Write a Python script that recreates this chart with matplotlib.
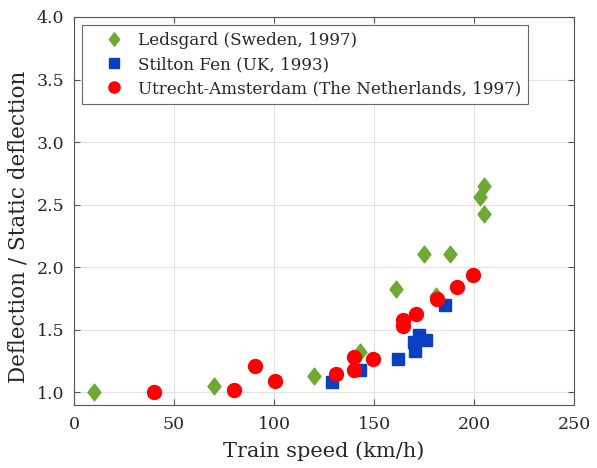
import numpy as np
import matplotlib.pyplot as plt
from matplotlib.path import Path

# Ledsgard (Sweden, 1997)
ledsgard_speed = [10, 70, 120, 143, 161, 175, 181, 188, 203, 205, 205]
ledsgard_ratio = [1.00, 1.05, 1.13, 1.32, 1.83, 2.11, 1.77, 2.11, 2.56, 2.65, 2.43]

# Stilton Fen (UK, 1993)
stilton_speed = [129, 143, 162, 170.5, 170.2, 172.7, 176, 185.5]
stilton_ratio = [1.08, 1.18, 1.27, 1.33, 1.40, 1.46, 1.42, 1.70]

# Utrecht-Amsterdam (The Netherlands, 1997)
utrecht_speed = [40, 80, 90.5, 100.5, 131, 140, 140, 149.5, 164.3, 164.3, 171, 181.7, 191.7, 199.5]
utrecht_ratio = [1.00, 1.02, 1.21, 1.09, 1.15, 1.28, 1.18, 1.27, 1.58, 1.53, 1.63, 1.75, 1.84, 1.94]

plt.rcParams['font.family'] = 'DejaVu Serif'
plt.rcParams['xtick.labelsize'] = 12.5
plt.rcParams['ytick.labelsize'] = 12.5

diamond = Path([(0, 1), (0.78, 0), (0, -1), (-0.78, 0), (0, 1)],
               [Path.MOVETO, Path.LINETO, Path.LINETO, Path.LINETO, Path.CLOSEPOLY])

fig = plt.figure(figsize=(5.97, 4.68), dpi=100)
ax = fig.add_axes([0.124, 0.1346, 0.8375, 0.8291])

ax.plot(ledsgard_speed, ledsgard_ratio, linestyle='none', marker=diamond,
        markersize=12, color='#6fa832', label='Ledsgard (Sweden, 1997)')
ax.plot(stilton_speed, stilton_ratio, linestyle='none', marker='s',
        markersize=8.5, color='#0a3ec4', label='Stilton Fen (UK, 1993)')
ax.plot(utrecht_speed, utrecht_ratio, linestyle='none', marker='o',
        markersize=10, color='#ff0000', label='Utrecht-Amsterdam (The Netherlands, 1997)')

ax.set_xlim(0, 250)
ax.set_ylim(0.9, 4.0)
ax.set_xticks(np.arange(0, 251, 50))
ax.set_yticks(np.arange(1.0, 4.01, 0.5))
ax.set_yticklabels([f'{v:.1f}' for v in np.arange(1.0, 4.01, 0.5)])
ax.grid(True, color='#e3e3e3', linewidth=0.8)
ax.set_axisbelow(True)
ax.tick_params(direction='in', top=True, right=True, length=4, color='#555555',
               labelcolor='#262626')
ax.tick_params(axis='x', pad=8)
ax.tick_params(axis='y', pad=7)
for s in ax.spines.values():
    s.set_color('#555555')
    s.set_linewidth(0.8)

ax.set_xlabel('Train speed (km/h)', fontsize=15, color='#262626', labelpad=6)
ax.set_ylabel('Deflection / Static deflection', fontsize=15.5, color='#262626')
ax.yaxis.set_label_coords(-0.09, 0.46)

leg = ax.legend(loc='upper left', fontsize=12.1, frameon=True, fancybox=False,
                edgecolor='#666666', framealpha=1, borderaxespad=0.5,
                handlelength=2.9, handletextpad=0.0, labelspacing=0.42,
                borderpad=0.4, markerscale=0.8)
leg.get_frame().set_linewidth(0.8)
for t in leg.get_texts():
    t.set_color('#262626')

plt.savefig('out.png', dpi=100)
plt.close(fig)
